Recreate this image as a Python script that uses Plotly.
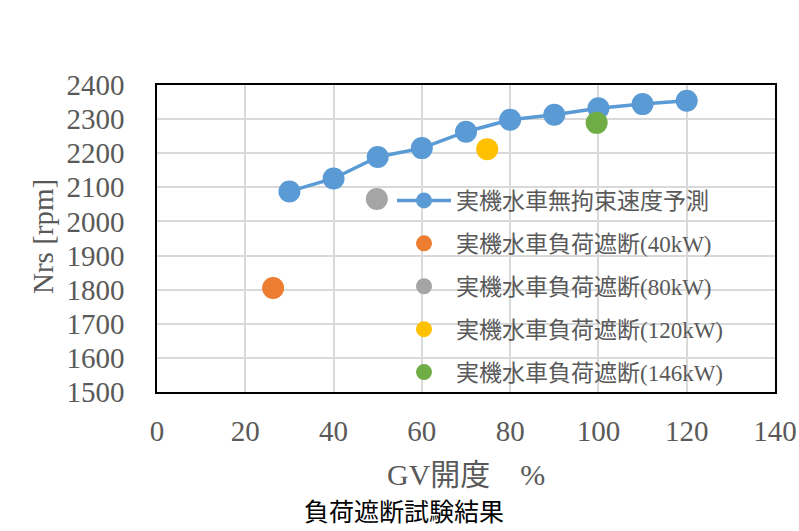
import plotly.graph_objects as go

# Data
gv_pred = [30, 40, 50, 60, 70, 80, 90, 100, 110, 120]
nrs_pred = [2088, 2126, 2189, 2215, 2263, 2298, 2313, 2332, 2344, 2354]

load_names = ["実機水車負荷遮断(40kW)", "実機水車負荷遮断(80kW)",
              "実機水車負荷遮断(120kW)", "実機水車負荷遮断(146kW)"]
load_gv = [26.3, 49.8, 74.8, 99.6]
load_nrs = [1805, 2066, 2212, 2289]
load_colors = ["#ED7D31", "#A5A5A5", "#FFC000", "#70AD47"]

x_ticks = [0, 20, 40, 60, 80, 100, 120, 140]
y_ticks = [1500, 1600, 1700, 1800, 1900, 2000, 2100, 2200, 2300, 2400]

SERIF = "Liberation Serif, Noto Sans CJK JP, serif"
GRAY = "#595959"

fig = go.Figure()
fig.add_trace(go.Scatter(
    x=gv_pred, y=nrs_pred, mode="lines+markers", name="実機水車無拘束速度予測",
    line=dict(color="#5B9BD5", width=3.5),
    marker=dict(color="#5B9BD5", size=22), legendgroup="g0"))
for i, (n, gx, gy, c) in enumerate(zip(load_names, load_gv, load_nrs, load_colors)):
    fig.add_trace(go.Scatter(
        x=[gx], y=[gy], mode="markers", name=n,
        marker=dict(color=c, size=22), legendgroup=f"g{i+1}"))

fig.update_layout(
    width=799, height=531,
    margin=dict(l=157, r=24, t=85, b=139),
    paper_bgcolor="white", plot_bgcolor="white",
    font=dict(family=SERIF, color=GRAY, size=22),
    showlegend=True,
    legend=dict(
        x=(392 - 157) / 618, y=(392 - 179) / 307, xanchor="left", yanchor="top",
        bgcolor="rgba(0,0,0,0)", borderwidth=0,
        font=dict(family=SERIF, size=23, color=GRAY),
        traceorder="grouped", tracegroupgap=10, itemwidth=54,
    ),
    xaxis=dict(
        range=[0, 140], tickvals=x_ticks, showgrid=True, gridcolor="#D9D9D9", gridwidth=2,
        showline=True, linecolor="black", linewidth=1.5, mirror=True, zeroline=False,
        ticks="", ticklabelstandoff=12, automargin=False,
        tickfont=dict(size=29, family=SERIF, color=GRAY),
    ),
    yaxis=dict(
        range=[1500, 2400], tickvals=y_ticks, showgrid=True, gridcolor="#D9D9D9", gridwidth=2,
        showline=True, linecolor="black", linewidth=1.5, mirror=True, zeroline=False,
        ticks="", ticklabelstandoff=25, automargin=False,
        tickfont=dict(size=29, family=SERIF, color=GRAY),
    ),
    annotations=[
        dict(text="Nrs [rpm]", xref="paper", yref="paper", x=(43 - 157) / 618, y=(392 - 237) / 307,
             showarrow=False, textangle=-90, font=dict(size=29, family=SERIF, color=GRAY),
             xanchor="center", yanchor="middle"),
        dict(text="GV開度　%", xref="paper", yref="paper", x=(466 - 157) / 618, y=(392 - 474) / 307,
             showarrow=False, font=dict(size=30, family=SERIF, color=GRAY),
             xanchor="center", yanchor="middle"),
        dict(text="負荷遮断試験結果", xref="paper", yref="paper", x=(404 - 157) / 618, y=(392 - 510) / 307,
             showarrow=False, font=dict(size=25, family="Noto Sans CJK JP", color="black"),
             xanchor="center", yanchor="middle"),
    ],
)

fig.write_html("out.html")
